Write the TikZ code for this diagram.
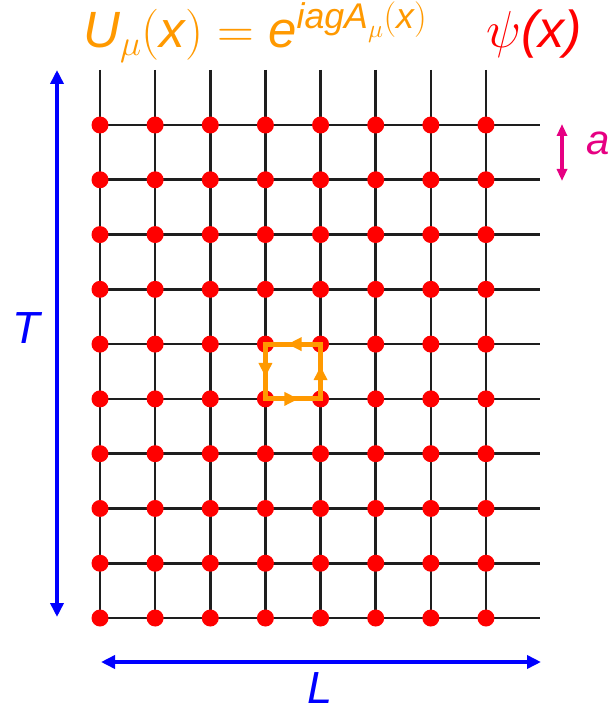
\RequirePackage{fix-cm}
\documentclass[tikz,border=0pt]{standalone}
\usepackage{amsmath}
\usepackage{fontspec}
\setmainfont{Liberation Sans}
\usetikzlibrary{arrows.meta,decorations.markings}
\definecolor{plaqcol}{RGB}{255,153,0}
\definecolor{sitecol}{RGB}{255,0,0}
\definecolor{dimcol}{RGB}{0,0,255}
\definecolor{spccol}{RGB}{230,0,130}
\newcommand\sv[1]{\text{\itshape #1}}
\tikzset{
  gridline/.style={line width=2.6pt,draw={rgb,255:red,30;green,30;blue,30}},
  sitedot/.style={circle,fill=sitecol,inner sep=0pt,minimum size=17pt},
  dimarrow/.style={line width=4.5pt,draw=dimcol,{Triangle[length=14pt,width=13pt]}-{Triangle[length=14pt,width=13pt]}},
  spcarrow/.style={line width=3.5pt,draw=spccol,{Triangle[length=12pt,width=10pt]}-{Triangle[length=12pt,width=10pt]}},
  plaqline/.style={line width=5pt,draw=plaqcol,line join=miter,
    postaction={decorate},
    decoration={markings,
      mark=at position 0.15 with {\arrow[plaqcol]{Triangle[length=14pt,width=13pt]}},
      mark=at position 0.40 with {\arrow[plaqcol]{Triangle[length=14pt,width=13pt]}},
      mark=at position 0.65 with {\arrow[plaqcol]{Triangle[length=14pt,width=13pt]}},
      mark=at position 0.90 with {\arrow[plaqcol]{Triangle[length=14pt,width=13pt]}}}},
  lbl/.style={inner sep=0pt,anchor=base west}
}
\begin{document}
\begin{tikzpicture}[x=1pt,y=-1pt]
\useasboundingbox (0,0) rectangle (611,711);
% grid coordinates
\foreach \i in {0,...,7}{
  \foreach \j in {0,...,9}{
    \coordinate (g-\i-\j) at ({100+55.14*\i},{125+54.78*\j});
  }
  \coordinate (top-\i) at ({100+55.14*\i},70);
}
\foreach \j in {0,...,9}{
  \coordinate (right-\j) at (540,{125+54.78*\j});
}
% grid lines
\foreach \i in {0,...,7}{
  \draw[gridline] (top-\i) -- (g-\i-9);
}
\foreach \j in {0,...,9}{
  \draw[gridline] (g-0-\j) -- (right-\j);
}
% sites
\foreach \i in {0,...,7}{
  \foreach \j in {0,...,9}{
    \node[sitedot] (d-\i-\j) at (g-\i-\j) {};
  }
}
% plaquette
\draw[plaqline] (g-3-5) -- (g-4-5) -- (g-4-4) -- (g-3-4) -- cycle;
% dimension arrows
\coordinate (Ttop) at (57,70);
\coordinate (Tbot) at (57,617);
\draw[dimarrow] (Ttop) -- (Tbot);
\coordinate (Lleft) at (101,662);
\coordinate (Lright) at (541,662);
\draw[dimarrow] (Lleft) -- (Lright);
\coordinate (atop) at (562,124);
\coordinate (abot) at (562,181);
\draw[spcarrow] (atop) -- (abot);
% labels
\node[lbl,text=dimcol,font=\fontsize{45}{54}\selectfont\itshape] (T) at (12,343) {T};
\node[lbl,text=dimcol,font=\fontsize{45}{54}\selectfont\itshape] (L) at (307,703) {L};
\node[lbl,text=spccol,font=\fontsize{42}{50}\selectfont\itshape] (a) at (586,155) {a};
\node[lbl,text=plaqcol,font=\fontsize{51}{60}\selectfont] (U) at (83,48)
  {$\sv{U}_{\mu}(\sv{x}) = \sv{e}^{\sv{iagA}_{\mu}(\sv{x})}$};
\node[lbl,text=sitecol,font=\fontsize{52}{62}\selectfont] (psi) at (486,48)
  {$\psi$\itshape(x)};
\end{tikzpicture}
\end{document}
